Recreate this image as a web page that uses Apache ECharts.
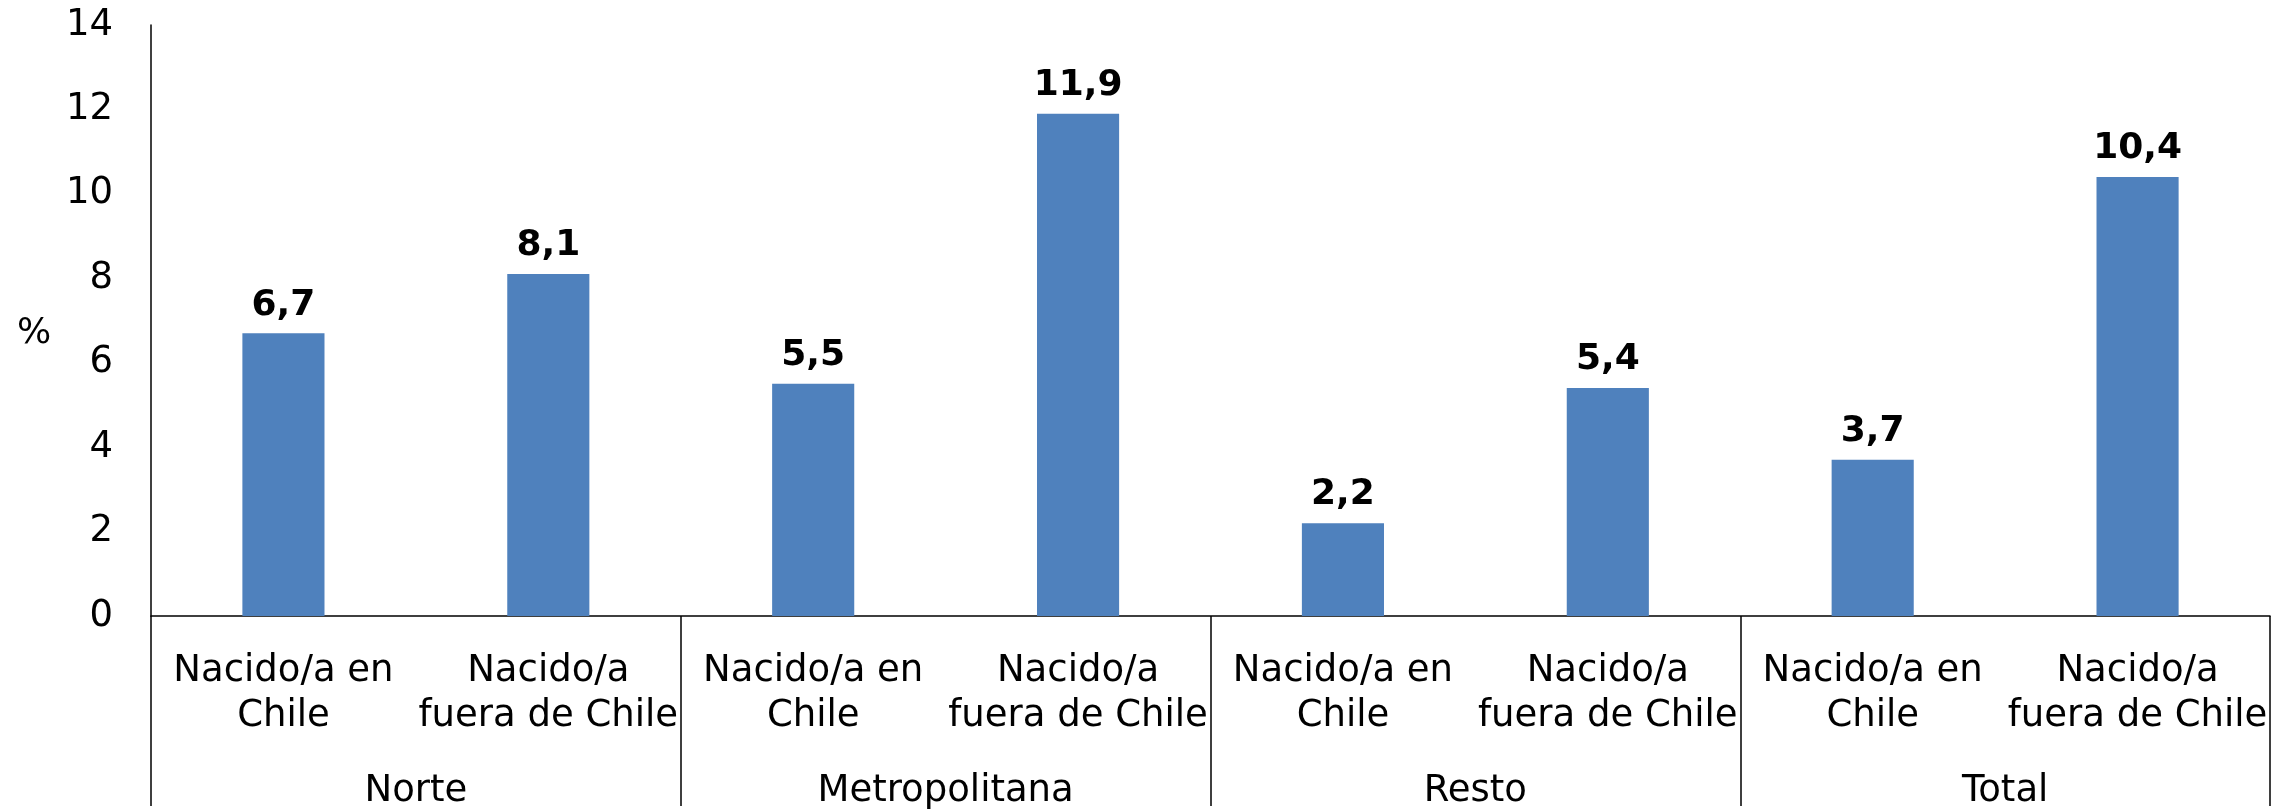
<!DOCTYPE html>
<html><head><meta charset="utf-8">
<script src="https://cdn.jsdelivr.net/npm/echarts@6/dist/echarts.min.js"></script>
<style>html,body{margin:0;padding:0;background:#fff}#c{width:2272px;height:810px}</style>
</head><body><div id="c"></div>
<script>
const categories = ["Nacido/a en\nChile","Nacido/a\nfuera de Chile","Nacido/a en\nChile","Nacido/a\nfuera de Chile","Nacido/a en\nChile","Nacido/a\nfuera de Chile","Nacido/a en\nChile","Nacido/a\nfuera de Chile"];
const groups = ["Norte","Metropolitana","Resto","Total"];
const values = [6.7, 8.1, 5.5, 11.9, 2.2, 5.4, 3.7, 10.4];
const yTicks = [0, 2, 4, 6, 8, 10, 12, 14];
const yLabel = "%";

const font = "DejaVu Sans, Verdana, sans-serif";
const chart = echarts.init(document.getElementById('c'), null, {renderer: 'canvas'});
chart.setOption({
  animation: false,
  backgroundColor: '#ffffff',
  grid: {left: 151, right: 2, top: 25, bottom: 186, containLabel: false},
  graphic: [{type: 'text', left: 17, top: 316, style: {text: yLabel, font: '36px ' + font, fill: '#000'}}],
  xAxis: [
    {type: 'category', data: categories, position: 'bottom',
     axisLine: {show: true, lineStyle: {color: '#000', width: 1.5}},
     axisTick: {show: false},
     axisLabel: {interval: 0, fontFamily: font, fontSize: 37, color: '#000', lineHeight: 45, margin: 33}},
    {type: 'category', data: groups, position: 'bottom', offset: 0,
     axisLine: {show: false},
     axisTick: {show: true, interval: 0, length: 190, lineStyle: {color: '#000', width: 1.5}},
     axisLabel: {interval: 0, fontFamily: font, fontSize: 37, color: '#000', margin: 157}}
  ],
  yAxis: {
    type: 'value', min: 0, max: 14, interval: 2,
    axisLine: {show: true, lineStyle: {color: '#000', width: 1.5}},
    axisTick: {show: false},
    splitLine: {show: false},
    axisLabel: {fontFamily: font, fontSize: 37, color: '#000', margin: 38, padding: [14, 0, 0, 0],
      formatter: v => yTicks.includes(v) ? String(v) : ''}
  },
  series: [{
    type: 'bar', data: values, xAxisIndex: 0, barWidth: '31%',
    itemStyle: {color: '#4F81BD'},
    label: {show: true, position: 'top', distance: 10, fontFamily: font, fontSize: 36, fontWeight: 'bold', color: '#000',
      formatter: p => p.value.toFixed(1).replace('.', ',')}
  }]
});
</script></body></html>
